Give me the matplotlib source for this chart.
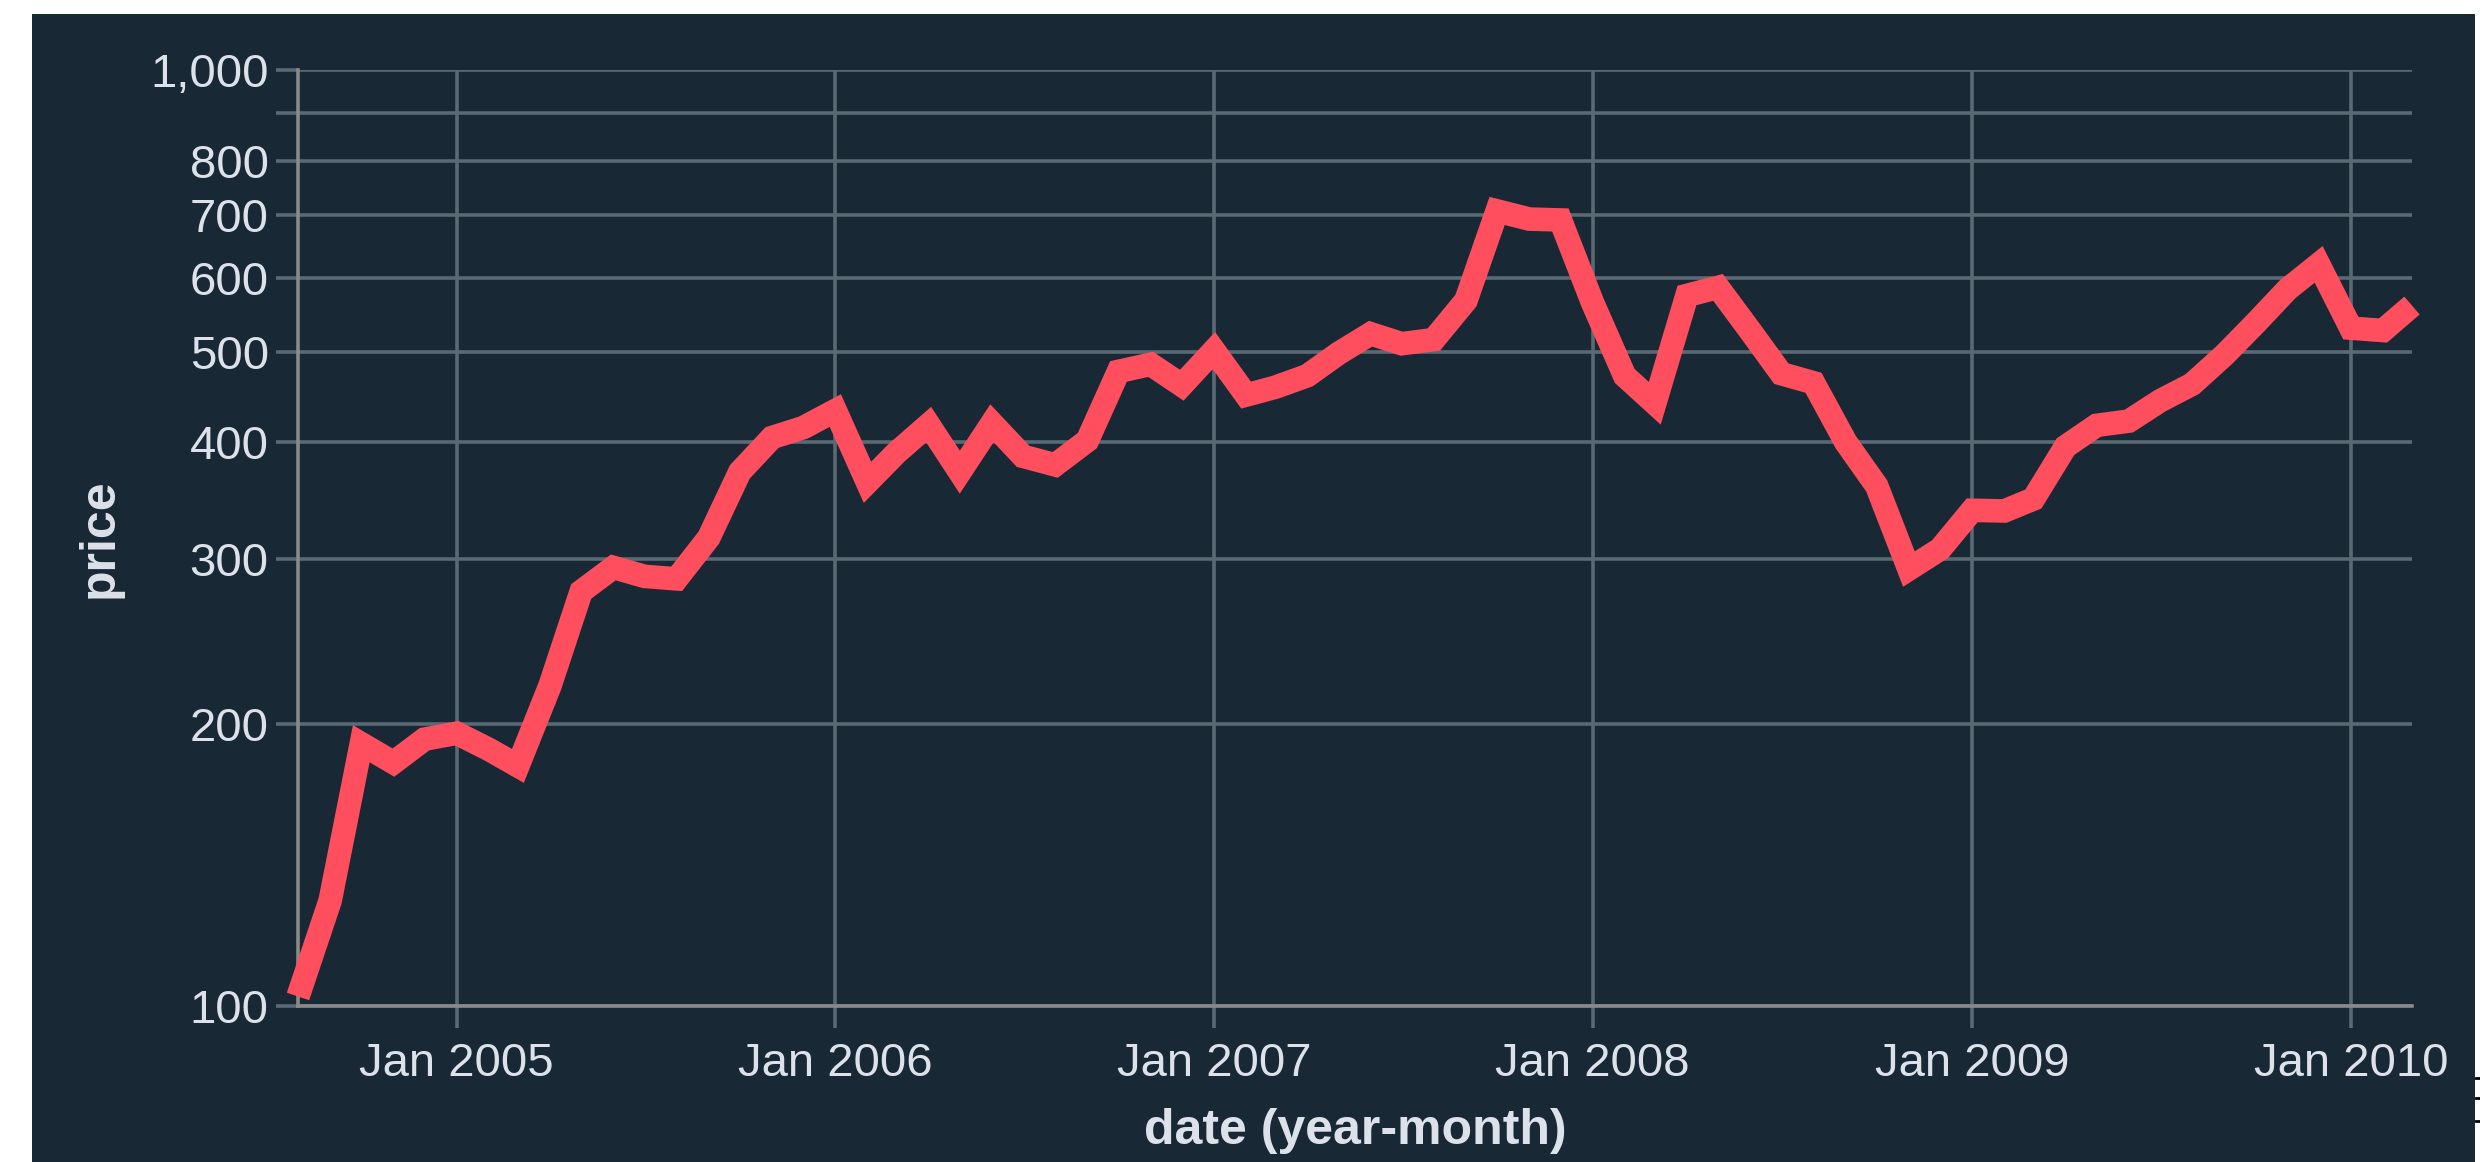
import numpy as np
import pandas as pd
import matplotlib
matplotlib.use("Agg")
import matplotlib.pyplot as plt
import matplotlib.dates as mdates
from matplotlib.ticker import FixedLocator, FuncFormatter
from matplotlib.patches import Rectangle
from matplotlib.lines import Line2D

# monthly GOOG closing price, Aug 2004 - Mar 2010
dates = pd.date_range("2004-08-01", "2010-03-01", freq="MS")
price = [102.37, 129.6, 190.64, 181.98, 192.79,
         195.62, 187.99, 180.51, 220, 277.27, 294.15, 287.76, 286, 316.46, 372.14, 404.91, 414.86,
         432.66, 362.62, 390, 417.94, 371.82, 419.33, 386.6, 378.53, 401.9, 476.39, 484.81, 460.48,
         501.5, 449.45, 458.16, 471.38, 497.91, 522.7, 510, 515.25, 567.27, 707, 693, 691.48,
         564.3, 471.18, 440.47, 574.29, 585.8, 526.42, 473.75, 463.29, 400.52, 359.36, 292.96, 307.65,
         338.53, 337.99, 348.06, 395.97, 417.23, 421.59, 443.05, 461.67, 495.85, 536.12, 583, 619.98,
         529.94, 526.8, 560.19]
y_ticks = [100, 200, 300, 400, 500, 600, 700, 800, 900, 1000]
y_hidden = [900]

BG = "#182834"
GRID = "#5a6a75"
DOMAIN = "#8a8a8a"
TEXT = "#dde2ea"
LINE = "#ff4f5e"

plt.rcParams["font.family"] = ["Liberation Sans", "DejaVu Sans"]

fig = plt.figure(figsize=(24.8, 11.62), dpi=100)
fig.patch.set_facecolor("white")
fig.add_artist(Rectangle((32 / 2480, 0), (2475 - 32) / 2480, 1 - 14 / 1162,
                         transform=fig.transFigure, facecolor=BG, edgecolor="none", zorder=0))
# stray marks at the right edge of the screenshot
for yy in [1078, 1098, 1121]:
    fig.add_artist(Line2D([2476 / 2480, 1.0], [1 - yy / 1162] * 2, transform=fig.transFigure,
                          color="black", lw=2))

ax = fig.add_axes([298 / 2480, 1 - 1006 / 1162, (2412 - 298) / 2480, (1006 - 70) / 1162])
ax.set_facecolor(BG)

ax.plot(dates, price, color=LINE, lw=17, solid_joinstyle="miter",
        solid_capstyle="butt", clip_on=False, zorder=3)

ax.set_yscale("log")
ax.set_ylim(100, 1000)
ax.set_xlim(dates[0], dates[-1])

ax.yaxis.set_major_locator(FixedLocator(y_ticks))
ax.yaxis.set_minor_locator(FixedLocator([]))
ax.yaxis.set_major_formatter(FuncFormatter(
    lambda v, p: "" if round(v) in y_hidden else f"{int(round(v)):,}"))
ax.xaxis.set_major_locator(mdates.YearLocator())
ax.xaxis.set_major_formatter(mdates.DateFormatter("%b %Y"))

ax.grid(True, color=GRID, lw=2.6, zorder=1)
ax.set_axisbelow(True)
for s in ["top", "right"]:
    ax.spines[s].set_visible(False)
for s in ["left", "bottom"]:
    ax.spines[s].set_color(DOMAIN)
    ax.spines[s].set_linewidth(2.6)
    ax.spines[s].set_zorder(2)

ax.tick_params(axis="both", which="major", colors=GRID, length=16, width=2.6,
               labelcolor=TEXT, labelsize=34)
ax.tick_params(axis="x", pad=10)
ax.tick_params(axis="y", pad=5)

ax.set_xlabel("date (year-month)", fontsize=36, fontweight="bold", color=TEXT, labelpad=16)
ax.set_ylabel("price", fontsize=36, fontweight="bold", color=TEXT, labelpad=20)

fig.savefig("out.png", dpi=100, facecolor=fig.get_facecolor())
